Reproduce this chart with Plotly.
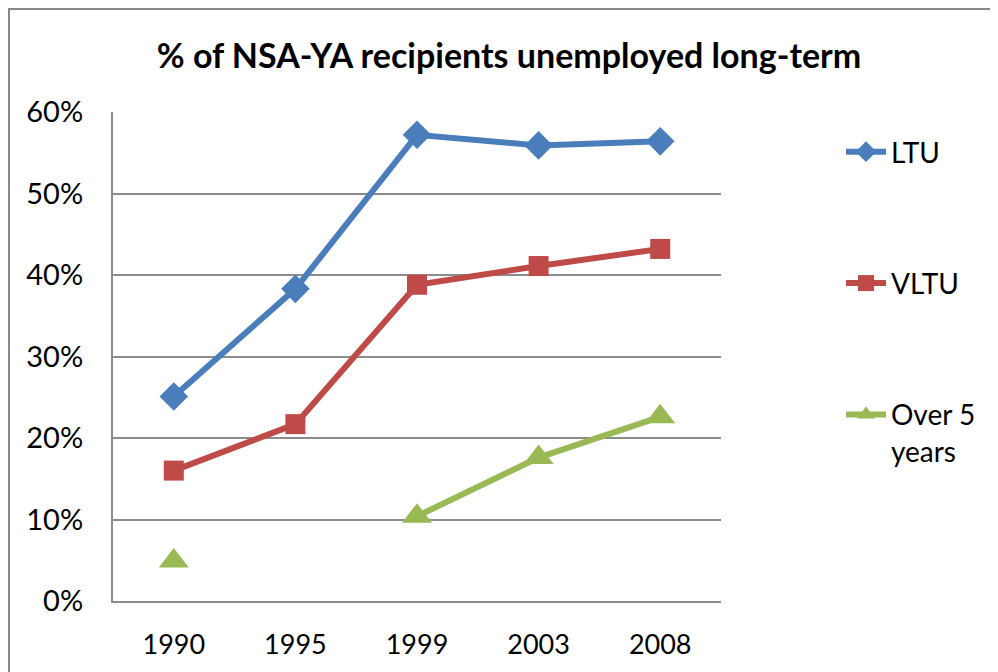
import plotly.graph_objects as go

# chart data
years = ["1990", "1995", "1999", "2003", "2008"]
ltu = [0.251, 0.383, 0.572, 0.559, 0.564]
vltu = [0.160, 0.217, 0.388, 0.411, 0.432]
over5 = [0.049, None, 0.104, 0.176, 0.226]

series_names = ["LTU", "VLTU", "Over 5<br>years"]
series_colors = ["#4a7ebb", "#be4b48", "#98b954"]
series_symbols = ["diamond", "square", "triangle-up"]
series_sizes = [22, 20, 26]
series_values = [ltu, vltu, over5]

FONT = "Lato, Calibri, sans-serif"
GRID = "#8c8c8c"

fig = go.Figure()
for i, (name, vals, col, sym, sz) in enumerate(zip(series_names, series_values, series_colors,
                                                    series_symbols, series_sizes)):
    fig.add_trace(go.Scatter(
        x=years, y=vals, name=name, mode="lines+markers",
        legendgroup=str(i),
        connectgaps=False,
        line=dict(color=col, width=6),
        marker=dict(symbol=sym, size=sz, color=col),
    ))

# page has an 8px body margin; plot area on the page is x 113..721, y 112..601
OFF = 8
W, H = 998 - OFF, 672 - OFF
L, T = 113 - OFF, 112 - OFF
pw, ph = 608, 489
R, B = W - L - pw, H - T - ph

def px_x(p):
    return (p - 113) / pw

def px_y(p):
    return (601 - p) / ph

fig.update_layout(
    width=W, height=H,
    margin=dict(l=L, r=R, t=T, b=B),
    paper_bgcolor="white", plot_bgcolor="white",
    font=dict(family=FONT, size=27, color="black"),
    title=dict(text="<b>% of NSA-YA recipients unemployed long-term</b>",
               x=px_x(509), xref="paper", xanchor="center",
               y=1 - (56 - OFF) / H, yanchor="middle",
               font=dict(size=34, family=FONT)),
    xaxis=dict(type="category", range=[-0.5, 4.5], showgrid=False,
               showline=True, linecolor=GRID, linewidth=2,
               ticks="", tickfont=dict(size=27), ticklabelstandoff=19),
    yaxis=dict(range=[0, 0.6], dtick=0.1, tickformat=".0%",
               showgrid=True, gridcolor=GRID, gridwidth=1.5,
               showline=True, linecolor=GRID, linewidth=2,
               zeroline=False, ticks="", tickfont=dict(size=29),
               ticklabelstandoff=22),
    legend=dict(x=px_x(841), xanchor="left", y=px_y(127), yanchor="top",
                tracegroupgap=92, valign="top", itemwidth=40,
                font=dict(size=28, family=FONT), bgcolor="rgba(0,0,0,0)"),
    shapes=[dict(type="rect", xref="paper", yref="paper",
                 x0=px_x(9), y0=px_y(9), x1=px_x(1100), y1=px_y(760),
                 line=dict(color="#888888", width=2), layer="below")],
)

fig.write_html("out.html")
